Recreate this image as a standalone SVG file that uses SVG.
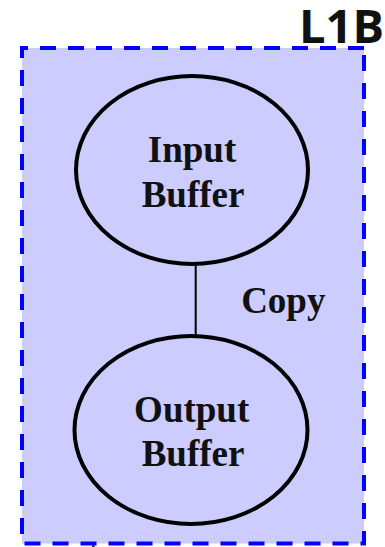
<svg xmlns="http://www.w3.org/2000/svg" width="385" height="547" viewBox="0 0 385 547">
  <style>
    .cluster-bg { fill: #ccccff; stroke: none; }
    .cluster-border { fill: none; stroke: #0000ff; stroke-width: 4; stroke-dasharray: 16 12; }
    .cluster-label { font-family: "Open Sans", "Noto Sans", sans-serif; font-weight: 700; font-size: 47px; fill: #111111; }
    .node-shape { fill: none; stroke: #000000; stroke-width: 4; }
    .node-label { font-family: "Liberation Serif", "Times New Roman", serif; font-weight: 700; font-size: 37px; fill: #111111; text-anchor: middle; }
    .edge { fill: none; stroke: #000000; stroke-width: 2; }
  </style>

  <!-- L1B cluster -->
  <g id="cluster-L1B">
    <rect class="cluster-bg" x="22" y="48" width="342" height="495.5"/>
    <path class="cluster-border" d="M364,48 H22 V543.5 H364 Z"/>
    <text class="cluster-label" x="384" y="42.5" text-anchor="end">L1B</text>
  </g>

  <!-- connectors -->
  <g id="edges">
    <g id="edge-copy">
      <line class="edge" x1="195.7" y1="265" x2="195.7" y2="336"/>
      <text class="node-label" x="283.3" y="312.7">Copy</text>
    </g>
  </g>

  <!-- nodes -->
  <g id="node-input-buffer">
    <ellipse class="node-shape" cx="192" cy="170" rx="116" ry="94"/>
    <text class="node-label" x="192" y="161.7">Input</text>
    <text class="node-label" x="193" y="206.7">Buffer</text>
  </g>

  <g id="node-output-buffer">
    <ellipse class="node-shape" cx="191" cy="430" rx="116.5" ry="94"/>
    <text class="node-label" x="191.7" y="421.7">Output</text>
    <text class="node-label" x="193" y="466">Buffer</text>
  </g>

  <!-- small mark under the bottom border -->
  <rect x="92" y="545.3" width="2.7" height="1.7" fill="#222222"/>
</svg>
